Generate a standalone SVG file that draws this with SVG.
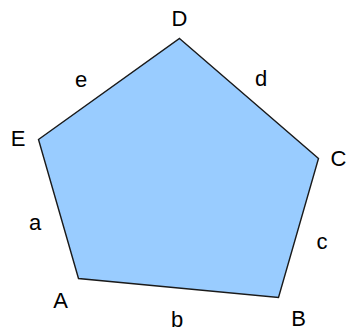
<svg xmlns="http://www.w3.org/2000/svg" width="349" height="334" viewBox="0 0 349 334">
<style>
.lbl{font-family:"Liberation Sans",Arial,sans-serif;font-size:22px;fill:#000;text-anchor:middle}
.shape{fill:#99ccff;stroke:#1a1a1a;stroke-width:1.4;stroke-linejoin:miter}
</style>
<rect width="349" height="334" fill="#fff"/>
<g id="pentagon">
<polygon class="shape" points="179.5,38.5 318.5,158.5 278.5,297.5 78.5,278.5 38.5,139.5"/>
</g>
<g id="vertex-labels">
<text class="lbl" x="179.5" y="26">D</text>
<text class="lbl" x="338.5" y="166">C</text>
<text class="lbl" x="298.5" y="326">B</text>
<text class="lbl" x="60.5" y="308">A</text>
<text class="lbl" x="18" y="146">E</text>
</g>
<g id="edge-labels">
<text class="lbl" x="81" y="87">e</text>
<text class="lbl" x="261" y="86">d</text>
<text class="lbl" x="35" y="230">a</text>
<text class="lbl" x="322" y="249">c</text>
<text class="lbl" x="177" y="327">b</text>
</g>
</svg>
